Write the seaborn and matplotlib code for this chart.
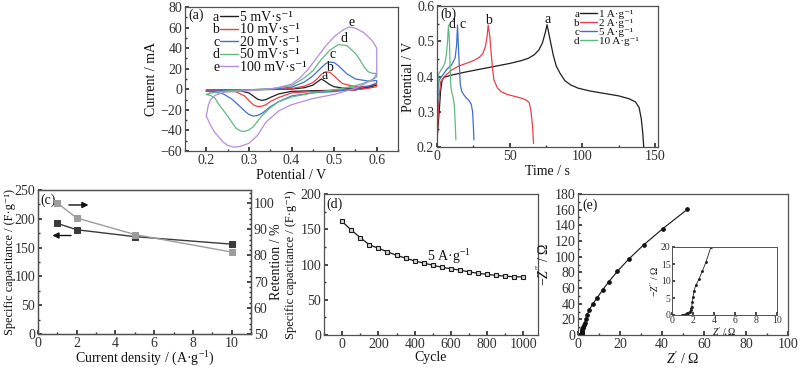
import numpy as np
import pandas as pd
import matplotlib
matplotlib.use('Agg')
import matplotlib.pyplot as plt
import seaborn as sns
from matplotlib.lines import Line2D
from matplotlib.ticker import MultipleLocator

# ---------------- (a) cyclic voltammetry ----------------
cv_letters = ['a', 'b', 'c', 'd', 'e']
cv_rates = ['5 mV·s⁻¹', '10 mV·s⁻¹', '20 mV·s⁻¹', '50 mV·s⁻¹', '100 mV·s⁻¹']
cv_colors = ['#1e1e1e', '#ec3f47', '#3e6fd2', '#5fba7f', '#b58ddf']

a_fwd_v = [0.20, 0.25, 0.30, 0.35, 0.40, 0.43, 0.45, 0.46, 0.47, 0.48, 0.49, 0.50, 0.52, 0.55, 0.58, 0.60]
a_fwd_i = [-1.0, -0.8, -0.5, -0.2, 0.2, 1.5, 4.0, 7.0, 10.0, 7.5, 4.5, 2.5, 1.2, 1.0, 2.0, 4.5]
a_rev_v = [0.60, 0.58, 0.55, 0.50, 0.45, 0.40, 0.37, 0.35, 0.34, 0.33, 0.32, 0.31, 0.30, 0.28, 0.25, 0.20]
a_rev_i = [4.5, 1.5, -0.6, -1.0, -1.4, -2.0, -4.5, -8.0, -10.0, -10.8, -9.5, -6.5, -3.5, -1.6, -1.1, -1.0]

b_fwd_v = [0.20, 0.25, 0.30, 0.35, 0.40, 0.43, 0.45, 0.46, 0.47, 0.48, 0.49, 0.50, 0.51, 0.52, 0.55, 0.58, 0.60]
b_fwd_i = [-1.0, -0.8, -0.4, 0.0, 0.7, 3.0, 6.5, 10.0, 14.5, 17.0, 16.5, 13.0, 9.0, 5.5, 2.5, 3.0, 5.0]
b_rev_v = [0.60, 0.58, 0.55, 0.50, 0.45, 0.40, 0.37, 0.35, 0.34, 0.33, 0.32, 0.31, 0.30, 0.29, 0.27, 0.25, 0.20]
b_rev_i = [2.5, 1.0, -0.5, -1.5, -2.2, -3.5, -8.0, -12.0, -15.0, -16.5, -16.8, -15.0, -11.0, -6.5, -2.5, -1.3, -1.0]

c_fwd_v = [0.20, 0.25, 0.30, 0.35, 0.40, 0.43, 0.45, 0.47, 0.48, 0.49, 0.50, 0.51, 0.52, 0.53, 0.55, 0.58, 0.60]
c_fwd_i = [-2.0, -1.2, -0.6, 0.2, 2.0, 7.0, 13.0, 21.0, 25.0, 26.5, 26.0, 23.0, 19.0, 15.0, 10.0, 8.0, 8.5]
c_rev_v = [0.60, 0.58, 0.55, 0.50, 0.45, 0.40, 0.37, 0.35, 0.34, 0.33, 0.32, 0.31, 0.30, 0.29, 0.28, 0.26, 0.24, 0.22, 0.20]
c_rev_i = [6.0, 3.0, 0.5, -2.2, -3.5, -6.5, -12.0, -17.0, -20.5, -23.5, -25.5, -26.0, -24.5, -21.0, -17.0, -9.5, -4.5, -2.8, -2.0]

d_fwd_v = [0.20, 0.21, 0.22, 0.25, 0.30, 0.35, 0.40, 0.43, 0.45, 0.47, 0.49, 0.51, 0.53, 0.55, 0.56, 0.57, 0.58, 0.59, 0.60]
d_fwd_i = [-5.0, -3.8, -3.0, -1.5, -0.5, 0.5, 3.5, 11.0, 18.0, 29.0, 38.0, 43.5, 42.5, 35.0, 29.0, 22.0, 17.0, 15.5, 15.5]
d_rev_v = [0.60, 0.59, 0.57, 0.55, 0.50, 0.45, 0.40, 0.37, 0.35, 0.33, 0.31, 0.30, 0.29, 0.28, 0.27, 0.25, 0.23, 0.22, 0.21, 0.20]
d_rev_i = [12.0, 9.5, 6.0, 3.5, -0.5, -3.5, -7.5, -12.0, -18.0, -26.0, -36.5, -39.5, -41.0, -40.5, -38.0, -26.0, -15.0, -8.5, -6.0, -5.0]

e_fwd_v = [0.20, 0.205, 0.21, 0.22, 0.24, 0.28, 0.32, 0.36, 0.40, 0.42, 0.44, 0.46, 0.48, 0.50, 0.52, 0.535, 0.55, 0.57, 0.59, 0.60]
e_fwd_i = [-26.0, -15.0, -10.0, -6.0, -3.0, -1.8, -0.8, 0.8, 5.0, 11.0, 20.0, 31.0, 42.0, 51.0, 57.5, 60.5, 59.5, 55.0, 47.0, 40.0]
e_rev_v = [0.60, 0.59, 0.57, 0.55, 0.50, 0.45, 0.40, 0.37, 0.34, 0.32, 0.30, 0.28, 0.265, 0.25, 0.24, 0.22, 0.21, 0.20]
e_rev_i = [15.0, 9.0, 5.0, 1.0, -5.0, -9.0, -15.0, -21.0, -32.0, -45.0, -52.5, -55.5, -56.3, -54.5, -51.5, -42.0, -35.0, -26.0]

cv_label_v = [0.478, 0.490, 0.496, 0.524, 0.541]
cv_label_i = [13, 21.5, 33.5, 49, 65]

# ---------------- (b) charge / discharge ----------------
gcd_letters = ['a', 'b', 'c', 'd']
gcd_rates = ['1 A·g⁻¹', '2 A·g⁻¹', '5 A·g⁻¹', '10 A·g⁻¹']
gcd_colors = ['#1e1e1e', '#ec3f47', '#3e6fd2', '#5fba7f']

g1_t = [0, 1.5, 2.5, 3.5, 5, 10, 20, 30, 40, 50, 58, 63, 67, 70, 72.5, 74.5, 75.7,
        77, 78.5, 80, 82, 84.5, 88, 92, 97, 105, 115, 125, 132, 136.5, 139, 140.5, 141.5, 142.2]
g1_e = [0.22, 0.30, 0.36, 0.39, 0.398, 0.404, 0.413, 0.421, 0.429, 0.437, 0.445, 0.452, 0.462, 0.475, 0.495, 0.525, 0.547,
        0.52, 0.49, 0.46, 0.43, 0.41, 0.388, 0.376, 0.367, 0.359, 0.352, 0.345, 0.337, 0.328, 0.312, 0.28, 0.24, 0.20]
g2_t = [0, 0.5, 1.2, 2.5, 5, 10, 15, 20, 25, 29, 31.5, 33.3, 34.5, 35.2,
        36.3, 37.2, 38, 39.1, 41.5, 44, 48.4, 53, 57.6, 61, 63.4, 64.5, 65.2, 65.8, 66.4]
g2_e = [0.20, 0.26, 0.33, 0.385, 0.40, 0.418, 0.430, 0.437, 0.445, 0.454, 0.465, 0.485, 0.515, 0.546,
        0.515, 0.47, 0.43, 0.391, 0.368, 0.357, 0.349, 0.344, 0.339, 0.334, 0.326, 0.305, 0.28, 0.255, 0.21]
g5_t = [0, 0.3, 0.8, 1.5, 3.2, 6.7, 10.2, 12.5, 13.5, 14.1,
        14.8, 15.5, 16, 17, 18.3, 20, 21.7, 23.5, 24.5, 25, 25.4]
g5_e = [0.20, 0.30, 0.37, 0.39, 0.40, 0.42, 0.434, 0.453, 0.49, 0.546,
        0.477, 0.42, 0.377, 0.358, 0.349, 0.34, 0.333, 0.322, 0.30, 0.26, 0.22]
g10_t = [0, 0.3, 0.8, 1.5, 3, 4.4, 5.5, 6.3, 7.2, 7.9,
         8.6, 9, 9.5, 10.2, 10.9, 11.5, 12, 12.5, 13]
g10_e = [0.20, 0.33, 0.40, 0.41, 0.42, 0.429, 0.44, 0.458, 0.496, 0.546,
         0.496, 0.429, 0.372, 0.355, 0.344, 0.33, 0.315, 0.268, 0.22]
gcd_label_t = [76, 35.6, 17.6, 10.2]
gcd_label_e = [0.562, 0.560, 0.547, 0.547]

# ---------------- (c) rate capability ----------------
rate_density = [1, 2, 5, 10]
rate_capacitance = [192, 181, 169, 156]
rate_retention = [100, 94.3, 88.0, 81.3]

# ---------------- (d) cycling ----------------
cycle_n = [0, 50, 100, 150, 200, 250, 300, 350, 400, 450, 500, 550, 600, 650, 700, 750, 800, 850, 900, 950, 1000]
cycle_cap = [161, 149, 138, 128, 123, 118, 113, 109, 105, 102, 99, 96, 94, 92, 89.5, 87.5, 86, 84.5, 83.5, 82.5, 82.5]

# ---------------- (e) Nyquist ----------------
z_re = [0.97, 1.1, 1.29, 1.45, 1.55, 1.68, 1.77, 1.83, 1.87, 1.94, 2.0, 2.1, 2.26, 2.58, 2.9, 3.23, 3.7,
        4.4, 5.4, 7.1, 9.2, 11.7, 14.7, 18.8, 24.1, 31.2, 40.4, 52.1]
z_im = [0.0, 0.1, 0.3, 0.5, 0.7, 1.0, 1.45, 2.0, 2.4, 3.9, 5.3, 7.2, 8.7, 10.6, 13.0, 15.5, 20.0,
        26.0, 32.0, 40.0, 47.7, 57.5, 68.1, 81.4, 96.7, 114.9, 135.8, 160.5]

# ---------------- style ----------------
sns.set_theme(style='ticks')
plt.rcParams.update({
    'font.family': ['Liberation Serif', 'DejaVu Serif'],
    'font.size': 10,
    'mathtext.fontset': 'custom',
    'mathtext.rm': 'Liberation Serif',
    'mathtext.it': 'Liberation Serif:italic',
    'mathtext.bf': 'Liberation Serif:bold',
    'xtick.direction': 'in',
    'ytick.direction': 'in',
    'xtick.major.size': 3,
    'ytick.major.size': 3,
    'xtick.minor.size': 1.6,
    'ytick.minor.size': 1.6,
    'xtick.major.pad': 2,
    'ytick.major.pad': 2,
    'axes.linewidth': 0.9,
    'axes.edgecolor': '#505050',
    'xtick.color': '#303030',
    'ytick.color': '#303030',
    'axes.labelpad': 1.5,
    'axes.labelsize': 10,
    'xtick.labelsize': 10,
    'ytick.labelsize': 10,
    'text.color': '#111111',
    'axes.labelcolor': '#111111',
})

W, H = 800, 367
fig = plt.figure(figsize=(W / 100, H / 100), dpi=100)


def box(l, r, t, b):
    return [l / W, 1 - b / H, (r - l) / W, (b - t) / H]


def style(ax, xmaj, xmin, ymaj, ymin):
    ax.xaxis.set_major_locator(MultipleLocator(xmaj))
    ax.xaxis.set_minor_locator(MultipleLocator(xmin))
    ax.yaxis.set_major_locator(MultipleLocator(ymaj))
    ax.yaxis.set_minor_locator(MultipleLocator(ymin))
    for s in ax.spines.values():
        s.set_visible(True)


legends = []


def make_legend(ax, letters, texts, colors, anchor, fs, lsp, hl):
    lines = [Line2D([], [], color=c, lw=1.0) for c in colors]
    leg = ax.legend(lines, texts, loc='upper left', bbox_to_anchor=anchor, frameon=False,
                    fontsize=fs, handlelength=hl, handletextpad=0.2, labelspacing=lsp,
                    borderpad=0.0, borderaxespad=0)
    legends.append((leg, letters, fs))
    return leg


# ---------- (a) ----------
axa = fig.add_axes(box(185, 398, 7, 151))
fwd_v = [a_fwd_v, b_fwd_v, c_fwd_v, d_fwd_v, e_fwd_v]
fwd_i = [a_fwd_i, b_fwd_i, c_fwd_i, d_fwd_i, e_fwd_i]
rev_v = [a_rev_v, b_rev_v, c_rev_v, d_rev_v, e_rev_v]
rev_i = [a_rev_i, b_rev_i, c_rev_i, d_rev_i, e_rev_i]
frames = []
for k, r in enumerate(cv_rates):
    v = list(fwd_v[k]) + list(rev_v[k])
    i = list(fwd_i[k]) + list(rev_i[k])
    frames.append(pd.DataFrame({'V': v, 'I': i, 'rate': r}))
df_cv = pd.concat(frames, ignore_index=True)
sns.lineplot(data=df_cv, x='V', y='I', hue='rate', hue_order=cv_rates, palette=cv_colors,
             sort=False, estimator=None, lw=0.9, legend=False, ax=axa)
for k, L in enumerate(cv_letters):
    axa.text(cv_label_v[k], cv_label_i[k], L, ha='center', va='center', fontsize=10)
axa.set_xlim(0.15, 0.65)
axa.set_ylim(-60, 80)
style(axa, 0.1, 0.05, 20, 10)
axa.set_xlabel('Potential / V')
axa.set_ylabel('Current / mA')
axa.text(0.015, 0.945, '(a)', transform=axa.transAxes, ha='left', va='center', fontsize=10)
make_legend(axa, cv_letters, cv_rates, cv_colors, (0.165, 0.972), 10, -0.04, 1.25)

# ---------- (b) ----------
axb = fig.add_axes(box(437, 658, 6, 147))
gt = [g1_t, g2_t, g5_t, g10_t]
ge = [g1_e, g2_e, g5_e, g10_e]
frames = []
for k, r in enumerate(gcd_rates):
    frames.append(pd.DataFrame({'t': gt[k], 'E': ge[k], 'rate': r}))
df_g = pd.concat(frames, ignore_index=True)
sns.lineplot(data=df_g, x='t', y='E', hue='rate', hue_order=gcd_rates, palette=gcd_colors,
             sort=False, estimator=None, lw=0.9, legend=False, ax=axb)
for k, L in enumerate(gcd_letters):
    axb.text(gcd_label_t[k], gcd_label_e[k], L, ha='center', va='center', fontsize=10)
axb.set_xlim(0, 152)
axb.set_ylim(0.2, 0.6)
style(axb, 50, 25, 0.1, 0.05)
axb.set_xlabel('Time / s')
axb.set_ylabel('Potential / V')
axb.text(0.015, 0.94, '(b)', transform=axb.transAxes, ha='left', va='center', fontsize=10)
make_legend(axb, gcd_letters, gcd_rates, gcd_colors, (0.648, 0.975), 8, -0.08, 1.5)

# ---------- (c) ----------
axc = fig.add_axes(box(38, 251, 190, 334))
sns.lineplot(x=rate_density, y=rate_capacitance, marker='s', markersize=4, color='#3a3a3a',
             mec='#3a3a3a', lw=1.0, ax=axc)
axc.set_xlim(0, 11)
axc.set_ylim(0, 250)
style(axc, 2, 1, 50, 25)
axc.set_xlabel('Current density / (A·g$^{-1}$)', labelpad=0.3)
axc.set_ylabel('Specific capacitance / (F·g⁻¹)', fontsize=8.8)
axc.yaxis.set_label_coords(-0.105, 0.5)
axc2 = axc.twinx()
sns.lineplot(x=rate_density, y=rate_retention, marker='s', markersize=4, color='#9c9c9c',
             mec='#9c9c9c', lw=1.0, ax=axc2)
axc2.set_ylim(50, 105)
axc2.yaxis.set_major_locator(MultipleLocator(10))
axc2.yaxis.set_minor_locator(MultipleLocator(2))
axc2.set_ylabel('Retention / %')
axc2.yaxis.set_label_coords(1.09, 0.5)
axc2.tick_params(axis='y', which='both', direction='in')
axc.text(0.01, 0.93, '(c)', transform=axc.transAxes, ha='left', va='center', fontsize=10)
axc.annotate('', xy=(2.75, 224), xytext=(1.45, 224),
             arrowprops=dict(arrowstyle='-|>', color='#111111', lw=1.0, mutation_scale=9))
axc.annotate('', xy=(0.6, 171), xytext=(1.85, 171),
             arrowprops=dict(arrowstyle='-|>', color='#111111', lw=1.0, mutation_scale=9))

# ---------- (d) ----------
axd = fig.add_axes(box(324, 538, 194, 335))
sns.lineplot(x=cycle_n, y=cycle_cap, marker='s', markersize=3.5, color='#1a1a1a',
             mfc='#d8d8d8', mec='#1a1a1a', mew=0.8, lw=0.9, ax=axd)
axd.set_xlim(-100, 1080)
axd.set_ylim(0, 200)
style(axd, 200, 100, 50, 25)
axd.set_xlabel('Cycle', labelpad=0.5)
axd.set_ylabel('Specific capacitance / (F·g⁻¹)', fontsize=9)
axd.yaxis.set_label_coords(-0.128, 0.5)
axd.text(0.012, 0.93, '(d)', transform=axd.transAxes, ha='left', va='center', fontsize=10)
axd.text(466, 111, '5 A·g$^{-1}$', ha='left', va='center', fontsize=10)

# ---------- (e) ----------
axe = fig.add_axes(box(578, 788, 194, 335))
sns.lineplot(x=z_re, y=z_im, marker='o', markersize=2.6, color='#111111', mec='#111111',
             lw=0.8, sort=False, estimator=None, ax=axe)
axe.set_xlim(0, 100)
axe.set_ylim(0, 180)
style(axe, 20, 10, 20, 10)
axe.set_xlabel("$Z'$ / Ω", labelpad=0.3)
axe.set_ylabel("$-Z''$ / Ω")
axe.text(0.02, 0.92, '(e)', transform=axe.transAxes, ha='left', va='center', fontsize=10)

axi = fig.add_axes(box(672, 777, 247, 315))
sns.lineplot(x=z_re, y=z_im, marker='o', markersize=1.3, color='#222222', mec='#222222',
             lw=0.6, sort=False, estimator=None, ax=axi)
axi.set_xlim(0, 10)
axi.set_ylim(0, 20)
axi.xaxis.set_major_locator(MultipleLocator(2))
axi.yaxis.set_major_locator(MultipleLocator(5))
axi.tick_params(labelsize=7, length=2, pad=1)
axi.set_xlabel("$Z'$ / Ω", fontsize=7, labelpad=0)
axi.set_ylabel("$-Z''$ / Ω", fontsize=7, labelpad=0)
for s in axi.spines.values():
    s.set_linewidth(0.7)

# letters in front of legend rows, aligned with each row's baseline
fig.canvas.draw()
rend = fig.canvas.get_renderer()
for leg, letters, fs in legends:
    for ln, tx, L in zip(leg.get_lines(), leg.get_texts(), letters):
        lb = ln.get_window_extent(rend)
        _, yb = tx.get_transform().transform(tx.get_position())
        fig.text((lb.x0 - 1) / W, yb / H, L, ha='right', va='baseline', fontsize=fs)

fig.savefig('out.png', dpi=100)
